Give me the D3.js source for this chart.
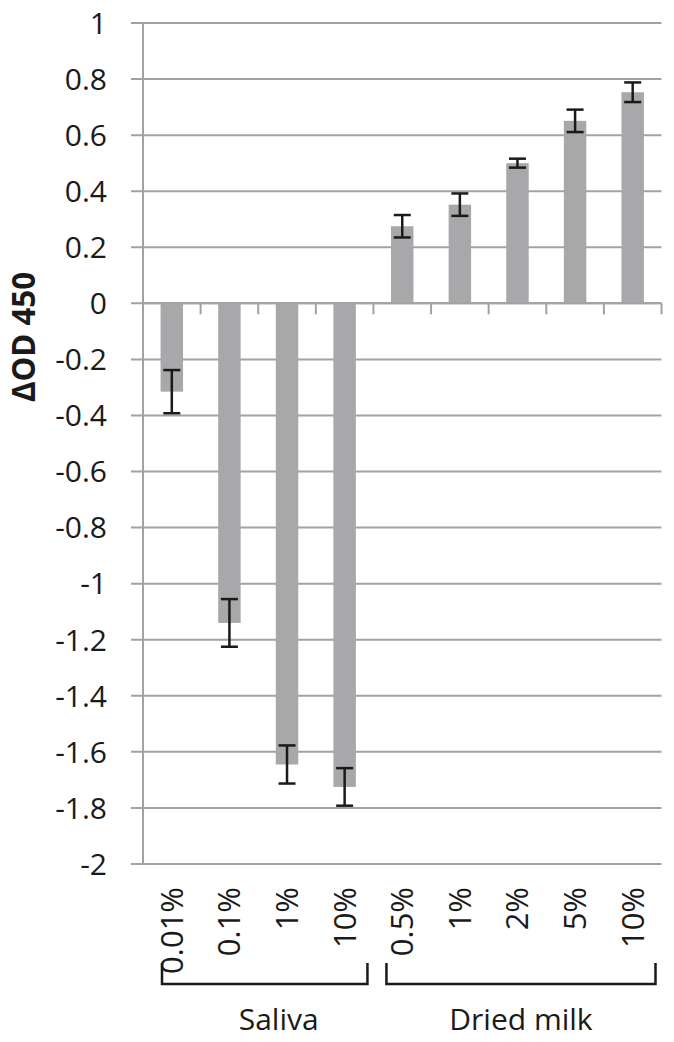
<!DOCTYPE html>
<html>
<head>
<meta charset="utf-8">
<script src="https://cdn.jsdelivr.net/npm/d3@7/dist/d3.min.js"></script>
<style>
  html, body { margin: 0; padding: 0; background: #fff; }
  text { font-family: "Open Sans", "Noto Sans", sans-serif; fill: #1a1a1a; }
</style>
</head>
<body>
<div id="chart"></div>
<script>
// chart data
const categories = ["0.01%", "0.1%", "1%", "10%", "0.5%", "1%", "2%", "5%", "10%"];
const values = [-0.315, -1.14, -1.645, -1.725, 0.275, 0.352, 0.50, 0.651, 0.753];
const errors = [0.077, 0.085, 0.068, 0.067, 0.040, 0.040, 0.016, 0.040, 0.035];
const groupNames = ["Saliva", "Dried milk"];
const groupStart = [0, 4];
const groupEnd = [3, 8];
const yTicks = [1, 0.8, 0.6, 0.4, 0.2, 0, -0.2, -0.4, -0.6, -0.8, -1, -1.2, -1.4, -1.6, -1.8, -2];
const yTitle = "ΔOD 450";

const width = 674;
const height = 1042;
const margin = { top: 23, right: 12.5, bottom: 178, left: 143 };

const svg = d3.select('#chart')
  .append('svg')
  .attr('width', width)
  .attr('height', height);

const x = d3.scaleBand()
  .domain(d3.range(categories.length))
  .range([margin.left, width - margin.right])
  .padding(0);

const y = d3.scaleLinear()
  .domain([-2, 1])
  .range([height - margin.bottom, margin.top]);

const step = x.step();
const barW = step * 0.39;
const gridColor = '#a2a2a2';

// horizontal gridlines + left ticks
svg.append('g')
  .selectAll('line')
  .data(yTicks)
  .enter()
  .append('line')
  .attr('x1', margin.left - 12)
  .attr('x2', width - margin.right)
  .attr('y1', d => y(d))
  .attr('y2', d => y(d))
  .style('stroke', gridColor)
  .style('stroke-width', 2);

// y axis line
svg.append('line')
  .attr('x1', margin.left)
  .attr('x2', margin.left)
  .attr('y1', y(1))
  .attr('y2', y(-2))
  .style('stroke', gridColor)
  .style('stroke-width', 2);

// y tick labels
svg.append('g')
  .selectAll('text')
  .data(yTicks)
  .enter()
  .append('text')
  .attr('x', 107)
  .attr('y', d => y(d))
  .attr('dy', '0.36em')
  .attr('text-anchor', 'end')
  .style('font-size', '30px')
  .text(d => d3.format('')(d).replace('−', '-'));

// y title
svg.append('text')
  .attr('transform', `translate(35,337) rotate(-90)`)
  .attr('text-anchor', 'middle')
  .attr('textLength', 130)
  .attr('lengthAdjust', 'spacingAndGlyphs')
  .style('font-size', '32px')
  .style('font-weight', 'bold')
  .text(yTitle);

// bars
svg.append('g')
  .selectAll('rect')
  .data(values)
  .enter()
  .append('rect')
  .attr('x', (d, i) => x(i) + (step - barW) / 2)
  .attr('width', barW)
  .attr('y', d => y(Math.max(0, d)))
  .attr('height', d => Math.abs(y(d) - y(0)))
  .style('fill', '#a8a8aa');

// category axis at zero, with ticks between categories
const xTicks = d3.range(1, categories.length + 1).map(i => margin.left + i * step);
svg.append('line')
  .attr('x1', margin.left)
  .attr('x2', width - margin.right)
  .attr('y1', y(0))
  .attr('y2', y(0))
  .style('stroke', gridColor)
  .style('stroke-width', 2);
svg.append('g')
  .selectAll('line')
  .data(xTicks)
  .enter()
  .append('line')
  .attr('x1', d => d)
  .attr('x2', d => d)
  .attr('y1', y(0))
  .attr('y2', y(0) + 11)
  .style('stroke', gridColor)
  .style('stroke-width', 2);

// error bars
const eb = svg.append('g')
  .style('stroke', '#1a1a1a')
  .style('stroke-width', 2.5);
values.forEach((v, i) => {
  const cx = x(i) + step / 2;
  eb.append('line')
    .attr('x1', cx).attr('x2', cx)
    .attr('y1', y(v + errors[i])).attr('y2', y(v - errors[i]));
  [v + errors[i], v - errors[i]].forEach(e => {
    eb.append('line')
      .attr('x1', cx - 8.5).attr('x2', cx + 8.5)
      .attr('y1', y(e)).attr('y2', y(e));
  });
});

// rotated category labels
svg.append('g')
  .selectAll('text')
  .data(categories)
  .enter()
  .append('text')
  .attr('transform', (d, i) => `translate(${x(i) + step / 2 + 11},${y(-2) + 23}) rotate(-90)`)
  .attr('text-anchor', 'end')
  .style('font-size', '31px')
  .text(d => d);

// group brackets
const bracketTop = 963;
const bracketBottom = 984;
const padL = [19, 13];
const padR = [6, 6];
groupNames.forEach((g, k) => {
  const x0 = x(groupStart[k]) + padL[k];
  const x1 = x(groupEnd[k]) + step - padR[k];
  svg.append('path')
    .attr('d', `M${x0},${bracketTop}V${bracketBottom}H${x1}V${bracketTop}`)
    .style('fill', 'none')
    .style('stroke', '#1a1a1a')
    .style('stroke-width', 2.5);
  svg.append('text')
    .attr('x', (x0 + x1) / 2 + (k === 0 ? 14 : 0))
    .attr('y', 1030)
    .attr('text-anchor', 'middle')
    .style('font-size', '30px')
    .text(g);
});
</script>
</body>
</html>
